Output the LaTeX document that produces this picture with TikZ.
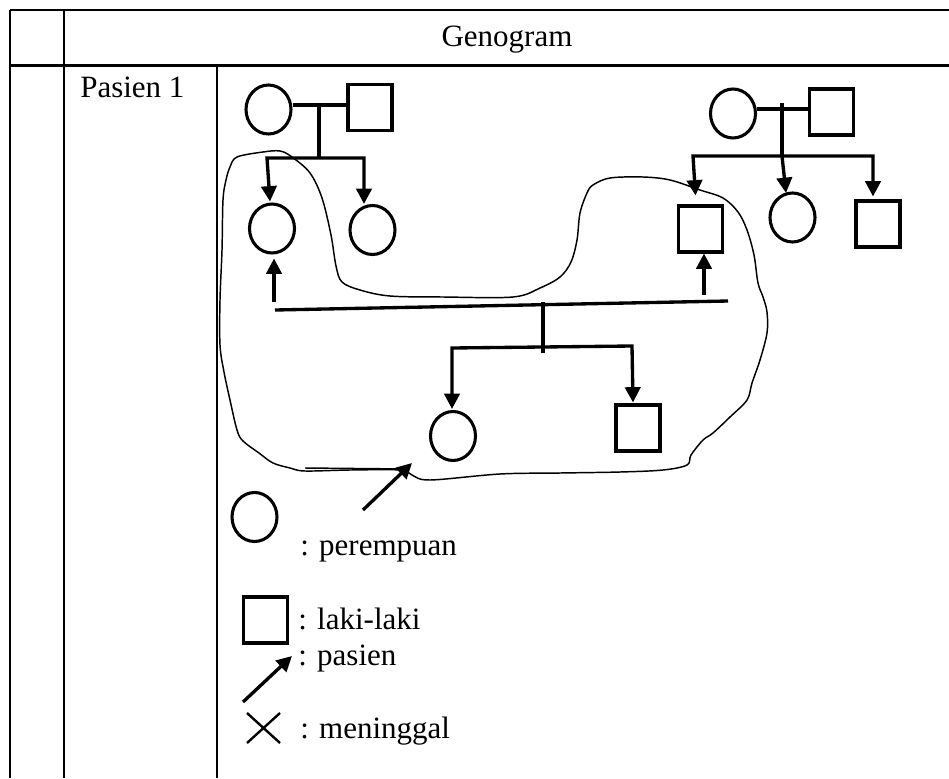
\documentclass[tikz,border=0pt]{standalone}
\usepackage{fontspec}
\setmainfont{Liberation Serif}
\usetikzlibrary{arrows.meta,shapes.geometric,calc}
\begin{document}
\begin{tikzpicture}[x=0.75pt,y=-0.75pt,
  grid/.style={line width=1.7pt},
  person/.style={draw, line width=2.3pt, inner sep=0pt},
  fem/.style={person, ellipse, minimum width=33.75pt, minimum height=36.75pt},
  male/.style={person, rectangle, minimum width=33pt, minimum height=34.5pt},
  rel/.style={line width=2.5pt},
  kid/.style={line width=2.5pt, -{Triangle[length=11.5pt,width=11.5pt]}},
  kids/.style={line width=2.5pt, {Triangle[length=11.5pt,width=11.5pt]}-{Triangle[length=11.5pt,width=11.5pt]}},
  contour/.style={line width=1.1pt, line join=round},
  txt/.style={inner sep=0pt, font=\fontsize{23.25}{28}\selectfont},
  lbl/.style={txt, anchor=base west}]
\useasboundingbox (0,0) rectangle (949,778);

% table rules
\draw[grid] (10,10) -- (949,10);
\draw[grid] (10,65.5) -- (949,65.5);
\draw[grid] (10,10) -- (10,778);
\draw[grid] (64,10) -- (64,778);
\draw[grid] (217,65.5) -- (217,778);

\node[txt, anchor=base] (title) at (507,46) {Genogram};
\node[lbl] (pasien) at (80,97) {Pasien 1};

% mother's side
\node[fem]  (GM1) at (268.5,109.5) {};
\node[male] (GF1) at (370,107.5) {};
\node[fem]  (M)   at (272,228.5) {};
\node[fem]  (A1)  at (372.5,230) {};

% father's side
\node[fem]  (GM2) at (733,113.5) {};
\node[male] (GF2) at (831.5,112) {};
\node[male] (F)   at (700.5,229) {};
\node[fem]  (A2)  at (792.5,217.5) {};
\node[male] (U2)  at (878,224) {};

% children
\node[fem]  (D) at (453,436) {};
\node[male] (S) at (638,428) {};

% family of the mother
\coordinate (m1) at (319,105);
\coordinate (s1) at (319,158);
\coordinate (b1l) at (267,158);
\coordinate (b1r) at (364,158);
\draw[rel] (GM1.east |- m1) -- (GF1.west |- m1);
\draw[rel] (m1) -- (s1);
\draw[kids] ($(M.north)+(-2,-1)$) -- (b1l) -- (b1r) -- (b1r |- A1.north);

% family of the father
\coordinate (m2) at (782,109);
\coordinate (t2) at (782,103);
\coordinate (s2) at (782,156);
\coordinate (b2l) at (693,156);
\coordinate (b2r) at (873,156);
\draw[rel] (GM2.east |- m2) -- (GF2.west |- m2);
\draw[rel] (t2) -- (s2);
\draw[kids] ($(F.north)+(-5,-9)$) -- (b2l) -- (b2r) -- ($(U2.north)+(-5,-3)$);
\draw[kid] (s2) -- ($(A2.north)+(-6.5,1.5)$);

% parents' union
\coordinate (pl) at (275,310);
\coordinate (pr) at (728,301);
\coordinate (um) at (274,302);
\coordinate (uf) at (704,295);
\draw[rel] (pl) -- (pr);
\draw[kid] (um) -- ($(M.south)+(2,4)$);
\draw[kid] (uf) -- ($(F.south)+(3.5,0)$);

% their children
\coordinate (c0) at (543,302);
\coordinate (c1) at (543,353);
\coordinate (b3l) at (452,348);
\coordinate (b3r) at (632,346);
\draw[rel] (c0) -- (c1);
\draw[kids] ($(D.north)+(-1,-1)$) -- (b3l) -- (b3r) -- ($(S.north)+(-5,-1)$);

% household outline
\draw[contour] plot[smooth cycle, tension=0.55] coordinates {
  (230,167) (237,157) (263,152) (280,151) (292,157) (310,173) (322,198)
  (331,235) (336,266) (342,282) (360,290) (390,296) (443,297) (513,297)
  (540,288) (560,277) (571,262) (577,240) (580,213) (587,193) (593,185)
  (610,178) (643,177) (670,180) (700,190) (723,198) (738,212) (747,230)
  (754,255) (758,283) (763,297) (767,312) (767,333) (760,360) (752,383)
  (747,400) (730,417) (713,433) (703,440) (691,455) (687,465) (663,470)
  (620,472) (560,473) (500,474) (430,480) (412,475) (400,470) (350,470)
  (305,471) (290,468) (273,463) (259,453) (243,441) (237,430) (230,400)
  (224,372) (220,345) (220,300) (222,250) (223,200) (226,180)};
\draw[contour] (305,468) -- (408,469);

% index person
\coordinate (pa0) at (363,510);
\coordinate (pa1) at (412,463);
\draw[kid] (pa0) -- (pa1);

% key
\node[fem]  (LF) at (254.5,517) {};
\node[lbl]  (tLF) at (300,555) {: perempuan};
\node[male] (LM) at (265.5,620) {};
\node[lbl]  (tLM) at (298,629) {: laki-laki};
\coordinate (la0) at (243,702);
\coordinate (la1) at (292,656);
\draw[kid] (la0) -- (la1);
\node[lbl]  (tLA) at (298,665) {: pasien};
\coordinate (x1) at (247,713);
\coordinate (x2) at (280,743);
\coordinate (x3) at (247,743);
\coordinate (x4) at (280,713);
\draw[line width=1.8pt] (x1) -- (x2) (x3) -- (x4);
\node[lbl]  (tLX) at (300,738) {: meninggal};
\end{tikzpicture}
\end{document}
